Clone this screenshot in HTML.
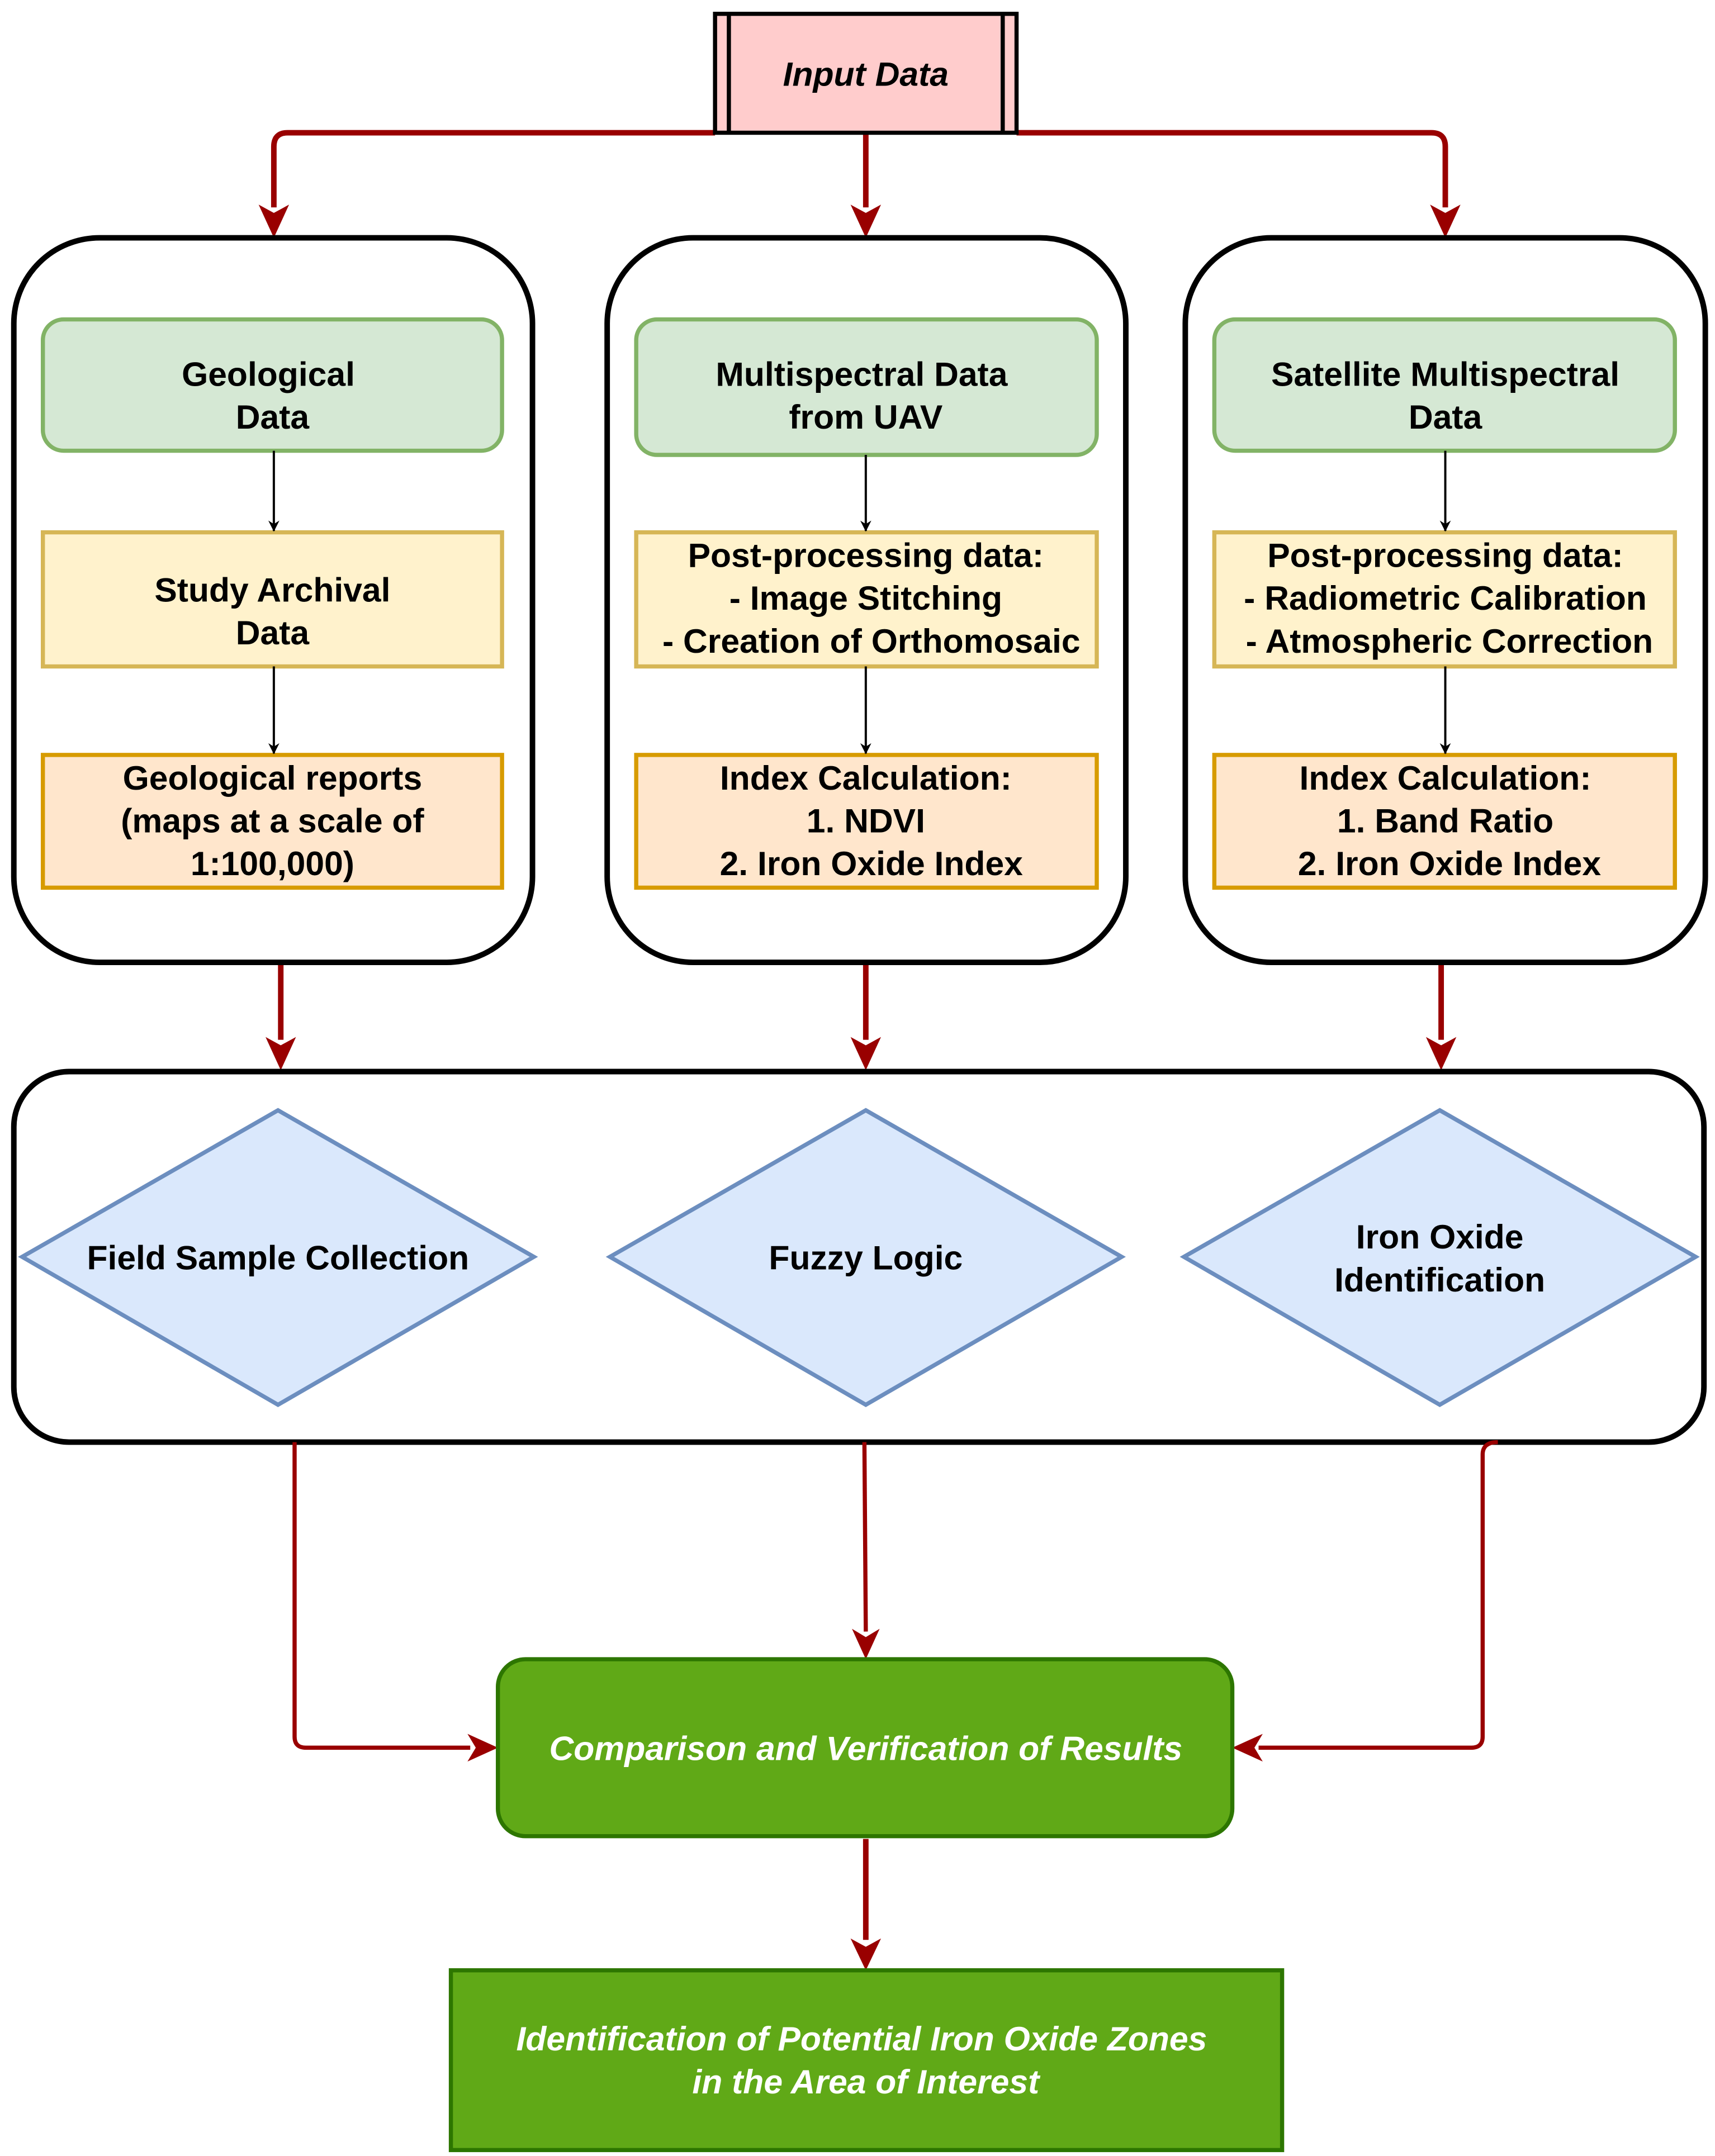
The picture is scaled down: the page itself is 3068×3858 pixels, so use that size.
<!DOCTYPE html>
<html><head><meta charset="utf-8"><style>html,body{margin:0;padding:0;background:#fff}svg{display:block}</style></head>
<body>
<svg width="3068" height="3858" viewBox="0 0 1240 1559.3" xmlns="http://www.w3.org/2000/svg" font-family="Liberation Sans, Arial, sans-serif" font-weight="bold" font-size="24.5" text-anchor="middle">
<defs>
<marker id="ra" markerWidth="10" markerHeight="10" refX="9" refY="5" orient="auto" markerUnits="userSpaceOnUse" viewBox="0 0 10 10"><path d="M0,0 L10,5 L0,10 L3,5 Z" fill="#990000"/></marker>
<marker id="ba" markerWidth="8" markerHeight="8" refX="7.5" refY="4" orient="auto" markerUnits="userSpaceOnUse" viewBox="0 0 8 8"><path d="M0,0 L8,4 L0,8 L2.5,4 Z" fill="#000"/></marker>
</defs>
<g transform="translate(0,0)">
<path id="dummy" d=""/>
</g>
<!-- red arrows from input -->
<g fill="none" stroke="#990000" stroke-width="4">
<path d="M517,96 H208 Q198,96 198,106 V150"/>
<path d="M626,96 V150"/>
<path d="M735,96 H1035 Q1045,96 1045,106 V150"/>
<path d="M203,697 V752"/>
<path d="M626,697 V752"/>
<path d="M1042,697 V752"/>
<path d="M626,1330 V1403"/>
</g>
<g fill="#990000">
<path d="M187,148 L198,172 L209,148 L198,154 Z"/>
<path d="M615,148 L626,172 L637,148 L626,154 Z"/>
<path d="M1034,148 L1045,172 L1056,148 L1045,154 Z"/>
<path d="M192,750 L203,774 L214,750 L203,756 Z"/>
<path d="M615,750 L626,774 L637,750 L626,756 Z"/>
<path d="M1031,750 L1042,774 L1053,750 L1042,756 Z"/>
<path d="M615,1402 L626,1425 L637,1402 L626,1408 Z"/>
</g>
<!-- input box -->
<rect x="517" y="10" width="218" height="86" fill="#ffcccc" stroke="#000" stroke-width="3"/>
<line x1="527" y1="10" x2="527" y2="96" stroke="#000" stroke-width="3"/>
<line x1="725" y1="10" x2="725" y2="96" stroke="#000" stroke-width="3"/>
<text x="626" y="62" font-style="italic">Input Data</text>
<!-- containers -->
<g fill="#fff" stroke="#000" stroke-width="4">
<rect x="10" y="172" width="375" height="524" rx="62"/>
<rect x="439" y="172" width="375" height="524" rx="62"/>
<rect x="857" y="172" width="376" height="524" rx="62"/>
</g>
<!-- green -->
<g fill="#d5e8d4" stroke="#82b366" stroke-width="3">
<rect x="31" y="231" width="332" height="95" rx="15"/>
<rect x="460" y="231" width="333" height="98" rx="15"/>
<rect x="878" y="231" width="333" height="95" rx="15"/>
</g>
<g fill="#fff2cc" stroke="#d6b656" stroke-width="3">
<rect x="31" y="385" width="332" height="97"/>
<rect x="460" y="385" width="333" height="97"/>
<rect x="878" y="385" width="333" height="97"/>
</g>
<g fill="#ffe6cc" stroke="#d79b00" stroke-width="3">
<rect x="31" y="546" width="332" height="96"/>
<rect x="460" y="546" width="333" height="96"/>
<rect x="878" y="546" width="333" height="96"/>
</g>
<g stroke="#000" stroke-width="1.6" fill="none" marker-end="url(#ba)">
<line x1="198" y1="326" x2="198" y2="384"/>
<line x1="198" y1="482" x2="198" y2="545"/>
<line x1="626" y1="329" x2="626" y2="384"/>
<line x1="626" y1="482" x2="626" y2="545"/>
<line x1="1045" y1="326" x2="1045" y2="384"/>
<line x1="1045" y1="482" x2="1045" y2="545"/>
</g>
<g fill="#000">
<text x="194" y="279">Geological</text><text x="197" y="310">Data</text>
<text x="623" y="279">Multispectral Data</text><text x="626" y="310">from UAV</text>
<text x="1045" y="279">Satellite Multispectral</text><text x="1045" y="310">Data</text>
<text x="197" y="435">Study Archival</text><text x="197" y="466">Data</text>
<text x="626" y="410">Post-processing data:</text><text x="626" y="441">- Image Stitching</text><text x="630" y="472">- Creation of Orthomosaic</text>
<text x="1045" y="410">Post-processing data:</text><text x="1045" y="441">- Radiometric Calibration</text><text x="1048" y="472">- Atmospheric Correction</text>
<text x="197" y="571">Geological reports</text><text x="197" y="602">(maps at a scale of</text><text x="197" y="633">1:100,000)</text>
<text x="626" y="571">Index Calculation:</text><text x="626" y="602">1. NDVI</text><text x="630" y="633">2. Iron Oxide Index</text>
<text x="1045" y="571">Index Calculation:</text><text x="1045" y="602">1. Band Ratio</text><text x="1048" y="633">2. Iron Oxide Index</text>
</g>
<!-- big container -->
<rect x="10" y="775" width="1222" height="268" rx="40" fill="#fff" stroke="#000" stroke-width="4"/>
<g fill="#dae8fc" stroke="#6c8ebf" stroke-width="3">
<polygon points="201,803 386,909 201,1016 16,909"/>
<polygon points="626,803 811,909 626,1016 441,909"/>
<polygon points="1041,803 1226,909 1041,1016 856,909"/>
</g>
<g fill="#000">
<text x="201" y="918">Field Sample Collection</text>
<text x="626" y="918">Fuzzy Logic</text>
<text x="1041" y="903">Iron Oxide</text><text x="1041" y="934">Identification</text>
</g>
<!-- lower connectors -->
<g fill="none" stroke="#990000" stroke-width="3">
<path d="M213,1043 V1256 Q213,1264 221,1264 H340"/>
<path d="M625,1043 L626,1180"/>
<path d="M1083,1043 Q1072,1043 1072,1052 V1256 Q1072,1264 1064,1264 H910"/>
</g>
<g fill="#990000">
<path d="M338,1254 L360,1264 L338,1274 L344,1264 Z"/>
<path d="M616,1178 L626,1200 L636,1178 L626,1184 Z"/>
<path d="M913,1254 L891,1264 L913,1274 L907,1264 Z"/>
</g>
<rect x="360" y="1200" width="531" height="128" rx="20" fill="#60a917" stroke="#2d7600" stroke-width="3"/>
<text x="626" y="1273" fill="#fff" font-style="italic">Comparison and Verification of Results</text>
<rect x="326" y="1425" width="601" height="130" fill="#60a917" stroke="#2d7600" stroke-width="3"/>
<text x="623" y="1483" fill="#fff" font-style="italic">Identification of Potential Iron Oxide Zones</text>
<text x="626" y="1514" fill="#fff" font-style="italic">in the Area of Interest</text>
</svg>
</body></html>
